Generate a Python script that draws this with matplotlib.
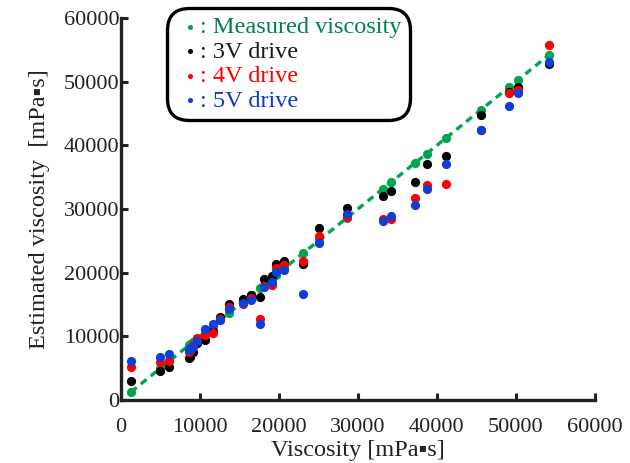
import matplotlib

matplotlib.use("Agg")
import matplotlib.pyplot as plt  # noqa: E402

plt.rcParams["font.family"] = ["Liberation Serif", "DejaVu Serif"]

# measured viscosity of each sample [mPa s]; the green dots sit on y = x
measured = [1270, 5000, 6100, 8650, 8800, 9150, 9600, 10600, 11600, 12600,
            13700, 15500, 16500, 17600, 18100, 19100, 19600, 20600, 23100, 25100,
            28600, 33200, 34200, 37200, 38700, 41200, 45600, 49200, 50300, 54200]
drive_3v = [3030, 4600, 5230, 6540, 6700, 7600, 9000, 9400, 10800, 13000,
            15050, 15900, 16500, 16200, 18950, 19500, 21350, 21900, 21350, 27000,
            30200, 32000, 32800, 34300, 37150, 38300, 44750, 48400, 49100, 52750]
drive_4v = [5230, 6000, 6170, 7500, 7800, 8600, 9700, 10200, 10500, 12700,
            14650, 15100, 16000, 12700, 17900, 18050, 20700, 21200, 21900, 25800,
            28700, 28500, 28400, 31700, 33750, 33900, 42400, 48150, 48750, 55750]
drive_5v = [6170, 6700, 7200, 7850, 8100, 8400, 9300, 11100, 11900, 12600,
            14250, 15300, 15700, 11900, 17800, 18500, 20100, 20500, 16600, 24600,
            29300, 28150, 28900, 30700, 33100, 37050, 42400, 46150, 48250, 53100]

series = [
    (measured, "#00a550", "#00804a", ": Measured viscosity"),
    (drive_3v, "#000000", "#1a1a1a", ": 3V drive"),
    (drive_4v, "#ff0000", "#ff0000", ": 4V drive"),
    (drive_5v, "#0b3fd8", "#1238c8", ": 5V drive"),
]

fig = plt.figure(figsize=(6.3, 4.63), dpi=100)
ax = fig.add_axes([0.192, 0.136, 0.752, 0.825])

ax.plot([measured[0], measured[-1]], [measured[0], measured[-1]],
        color="#00a550", linestyle=(0, (2.2, 1.6)), linewidth=2.4, zorder=1)

handles = []
for values, dot_color, _, label in series:
    h = ax.scatter(measured, values, s=44, color=dot_color, linewidths=0,
                   zorder=2, label=label)
    handles.append(h)

ax.set_xlim(0, 60000)
ax.set_ylim(0, 60000)
ax.set_xticks(range(0, 60001, 10000))
ax.set_yticks(range(0, 60001, 10000))
for side in ("top", "right"):
    ax.spines[side].set_visible(False)
for side in ("left", "bottom"):
    ax.spines[side].set_linewidth(2.4)
    ax.spines[side].set_color("#222222")
ax.tick_params(direction="in", length=5, width=2.2, labelsize=16,
               color="#222222", labelcolor="#222222")
ax.tick_params(axis="x", pad=13)
ax.tick_params(axis="y", pad=1)

ax.set_xlabel("Viscosity [mPa\u25aas]", fontsize=17.5, color="#222222", labelpad=2)
ax.set_ylabel("Estimated viscosity  [mPa\u25aas]", fontsize=17.5, color="#222222",
              labelpad=10)

leg = fig.legend(handles=handles, loc="upper left",
                 bbox_to_anchor=(0.265, 0.983), borderaxespad=0, fontsize=17.5,
                 labelcolor=[c for _, _, c, _ in series],
                 markerscale=0.55, handletextpad=-0.2, handlelength=1.2,
                 labelspacing=0.1, borderpad=0.35, fancybox=True,
                 framealpha=1)
frame = leg.get_frame()
frame.set_edgecolor("black")
frame.set_linewidth(2.4)
frame.set_boxstyle("round", pad=0, rounding_size=0.9)

fig.savefig("out.png", dpi=100)
